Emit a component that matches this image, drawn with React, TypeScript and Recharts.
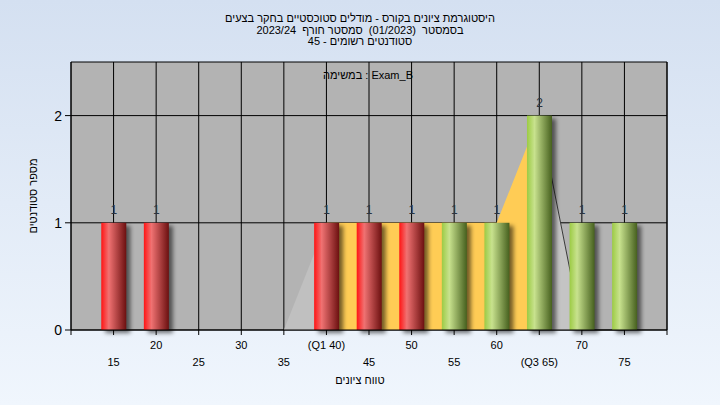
import React from "react";
import {
  ComposedChart,
  Bar,
  Area,
  XAxis,
  YAxis,
  CartesianGrid,
  LabelList,
} from "recharts";

// ---- data ----
const scores = [10, 15, 20, 25, 30, 35, 40, 45, 50, 55, 60, 65, 70, 75, 80];
const students: (number | null)[] = [null, 1, 1, 0, 0, 0, 1, 1, 1, 1, 1, 2, 1, 1, null];
const lowerTail: (number | null)[] = [null, null, null, null, null, 0, 1, null, null, null, null, null, null, null, null];
const interQuartile: (number | null)[] = [null, null, null, null, null, null, 1, 1, 1, 1, 1, 2, null, null, null];
const upperTail: (number | null)[] = [null, null, null, null, null, null, null, null, null, null, null, 2, 0, 0, null];
const tickLabels: Record<number, string> = {
  10: "",
  15: "15",
  20: "20",
  25: "25",
  30: "30",
  35: "35",
  40: "(Q1 40)",
  45: "45",
  50: "50",
  55: "55",
  60: "60",
  65: "(Q3 65)",
  70: "70",
  75: "75",
  80: "",
};
const upperRowScores = [20, 30, 40, 50, 60, 70];
const passThreshold = 50;

const titleLines = [
  "היסטוגרמת ציונים בקורס - מודלים סטוכסטיים בחקר בצעים",
  "בסמסטר  (01/2023)  סמסטר חורף  2023/24",
  "סטודנטים רשומים - 45",
];
const legendText = "במשימה : Exam_B";
const xTitle = "טווח ציונים";
const yTitle = "מספר סטודנטים";

const data = scores.map((x, i) => ({
  x,
  count: students[i],
  low: lowerTail[i],
  iqr: interQuartile[i],
  high: upperTail[i],
}));

const FONT = "'Liberation Sans', Arial, sans-serif";

const BarShape = (props: any) => {
  const { x, y, width, height, payload } = props;
  if (!height || height <= 0) return null;
  const red = payload.x <= passThreshold;
  const gid = red ? "gradRed" : "gradGreen";
  return (
    <g>
      <defs>
        <linearGradient id="gradRed" x1="0" y1="0" x2="1" y2="0">
          <stop offset="0%" stopColor="#ff1414" />
          <stop offset="30%" stopColor="#f07272" />
          <stop offset="100%" stopColor="#6c1010" />
        </linearGradient>
        <linearGradient id="gradGreen" x1="0" y1="0" x2="1" y2="0">
          <stop offset="0%" stopColor="#9ccb44" />
          <stop offset="30%" stopColor="#c8e28e" />
          <stop offset="100%" stopColor="#46601e" />
        </linearGradient>
        <filter id="barShadow" x="-50%" y="-10%" width="200%" height="130%">
          <feGaussianBlur stdDeviation="2" />
        </filter>
      </defs>
      <rect
        x={x + 4}
        y={y + 3}
        width={width}
        height={height}
        fill="#000"
        fillOpacity={0.55}
        filter="url(#barShadow)"
      />
      <rect x={x} y={y} width={width} height={height} fill={`url(#${gid})`} />
    </g>
  );
};

const ValueLabel = (props: any) => {
  const { x, y, width, value } = props;
  if (!value) return null;
  return (
    <text
      x={x + width / 2}
      y={y - 9}
      textAnchor="middle"
      fontFamily={FONT}
      fontSize={12}
      fill="#2a3340"
    >
      {value}
    </text>
  );
};

const XTick = (props: any) => {
  const { x, payload } = props;
  const v = payload.value;
  const label = tickLabels[v] ?? "";
  const upper = upperRowScores.includes(v);
  return (
    <text
      x={x}
      y={upper ? 349 : 366}
      textAnchor="middle"
      fontFamily={FONT}
      fontSize={11}
      fill="#000"
    >
      {label}
    </text>
  );
};

const T = (p: any) => (
  <text
    fontFamily={FONT}
    fontSize={11}
    fill="#000"
    textAnchor="middle"
    style={{ whiteSpace: "pre" }}
    {...p}
  />
);

export default function App() {
  return (
    <div
      style={{
        position: "fixed",
        left: 0,
        top: 0,
        width: 720,
        height: 405,
        background: "linear-gradient(to bottom, #d4e0f1 0%, #f0f6fd 100%)",
      }}
    >
      <ComposedChart
        width={720}
        height={405}
        data={data}
        margin={{ top: 62, right: 0, left: 0, bottom: 30 }}
      >
        <CartesianGrid
          yAxisId="left"
          stroke="#000"
          strokeWidth={1}
          fill="#b3b3b3"
          fillOpacity={1}
        />
        <XAxis
          type="number"
          dataKey="x"
          domain={[10, 80]}
          ticks={scores}
          interval={0}
          height={45}
          stroke="#000"
          tickSize={5}
          tick={<XTick />}
        />
        <YAxis
          yAxisId="left"
          orientation="left"
          domain={[0, 2.5]}
          ticks={[0, 1, 2]}
          width={71}
          stroke="#000"
          tickSize={6}
          tickMargin={3}
          tick={{ fill: "#000", fontSize: 14, fontFamily: FONT }}
        />
        <YAxis
          yAxisId="right"
          orientation="right"
          domain={[0, 2.5]}
          ticks={[0, 1, 2]}
          width={53}
          stroke="#000"
          tickSize={8}
          tickMargin={4}
          tick={{ fill: "#000", fontSize: 14, fontFamily: FONT }}
        />
        <Area
          yAxisId="left"
          type="linear"
          dataKey="low"
          stroke="none"
          fill="#c0c0c0"
          fillOpacity={1}
          isAnimationActive={false}
          dot={false}
          activeDot={false}
        />
        <Area
          yAxisId="left"
          type="linear"
          dataKey="iqr"
          stroke="none"
          fill="#ffcc55"
          fillOpacity={1}
          isAnimationActive={false}
          dot={false}
          activeDot={false}
        />
        <Area
          yAxisId="left"
          type="linear"
          dataKey="high"
          stroke="#3a3a3a"
          strokeWidth={1}
          fill="#c4c4c4"
          fillOpacity={1}
          isAnimationActive={false}
          dot={false}
          activeDot={false}
        />
        <Bar
          yAxisId="left"
          dataKey="count"
          barSize={25}
          shape={<BarShape />}
          isAnimationActive={false}
        >
          <LabelList dataKey="count" content={<ValueLabel />} />
        </Bar>
      </ComposedChart>
      <svg
        width={720}
        height={405}
        style={{ position: "absolute", left: 0, top: 0, pointerEvents: "none" }}
      >
        {titleLines.map((t, i) => (
          <T key={i} x={360} y={22 + i * 11.5}>
            {t}
          </T>
        ))}
        <T x={368} y={79}>
          {legendText}
        </T>
        <T x={360} y={384}>
          {xTitle}
        </T>
        <T x={0} y={0} transform="translate(37,196) rotate(-90)">
          {yTitle}
        </T>
      </svg>
    </div>
  );
}
